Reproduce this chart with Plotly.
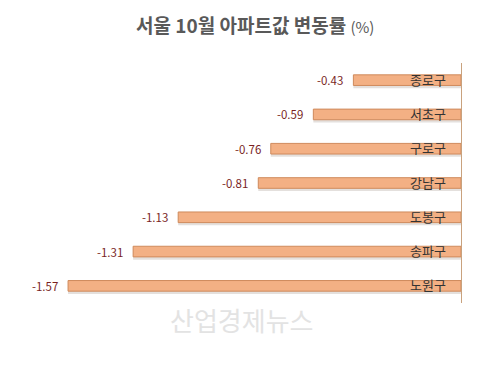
import plotly.graph_objects as go

districts = ["종로구", "서초구", "구로구", "강남구", "도봉구", "송파구", "노원구"]
changes = [-0.43, -0.59, -0.76, -0.81, -1.13, -1.31, -1.57]
value_labels = ["-0.43", "-0.59", "-0.76", "-0.81", "-1.13", "-1.31", "-1.57"]

font_family = "Noto Sans CJK KR, Noto Sans, sans-serif"
bar_w = 0.31

fig = go.Figure()
# soft shadow under the bars
fig.add_trace(go.Bar(
    x=changes, y=districts, orientation="h",
    width=bar_w, offset=-bar_w / 2 + 0.08,
    marker=dict(color="#E4E0DD", line=dict(width=0)),
    hoverinfo="skip",
))
fig.add_trace(go.Bar(
    x=changes, y=districts, orientation="h",
    width=bar_w, offset=-bar_w / 2,
    marker=dict(color="#F3B084", line=dict(color="#CF8A5C", width=1)),
    hoverinfo="skip",
))

annotations = []
for d, v, lab in zip(districts, changes, value_labels):
    annotations.append(dict(
        x=0, y=d, xref="x", yref="y", text=d, showarrow=False,
        xanchor="right", yanchor="middle", xshift=-13, yshift=1,
        font=dict(size=13, color="#333333", family=font_family),
    ))
    annotations.append(dict(
        x=v, y=d, xref="x", yref="y", text=lab, showarrow=False,
        xanchor="right", yanchor="middle", xshift=-8, yshift=0,
        font=dict(size=11.5, color="#7A1F1F", family=font_family),
    ))

annotations.append(dict(
    x=0.53, y=1.0, xref="paper", yref="paper", yanchor="bottom",
    text="<b>서울 10월 아파트값 변동률</b> <span style='font-size:15px'>(%)</span>",
    showarrow=False, yshift=23,
    font=dict(size=19, color="#595959", family=font_family),
))
annotations.append(dict(
    x=0.5, y=-0.07, xref="paper", yref="paper", text="산업경제뉴스",
    showarrow=False, yanchor="middle",
    font=dict(size=26, color="#E3E3E3", family=font_family),
))

fig.update_layout(
    width=480, height=373,
    margin=dict(l=15, r=27, t=55, b=78),
    paper_bgcolor="white", plot_bgcolor="white",
    showlegend=False, barmode="overlay",
    annotations=annotations,
    xaxis=dict(range=[-1.75, 0], visible=False, fixedrange=True),
    yaxis=dict(
        autorange=False, range=[6.5, -0.5],
        categoryorder="array", categoryarray=districts,
        showticklabels=False, ticks="", showgrid=False, zeroline=False,
        side="right", showline=True, linecolor="#C9A27E", linewidth=1,
    ),
)

fig.write_html("out.html")
